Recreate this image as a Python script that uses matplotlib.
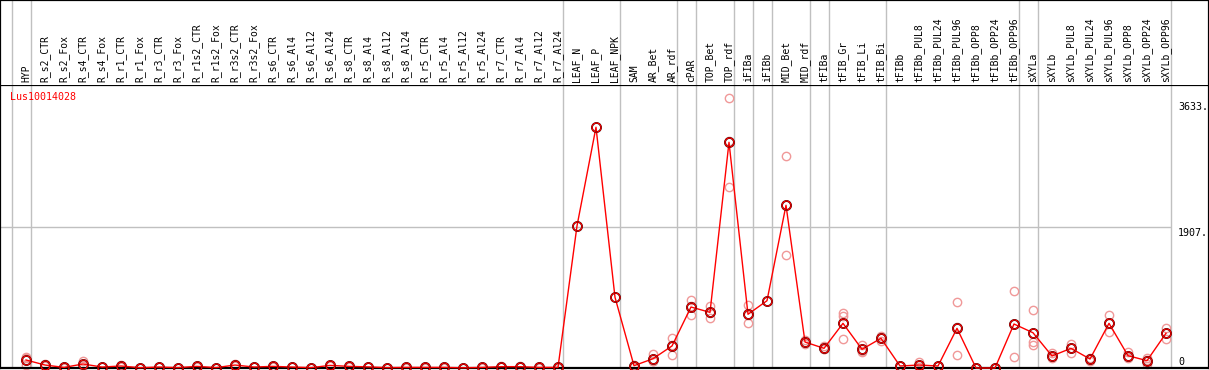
import numpy as np
import matplotlib
matplotlib.use('Agg')
import matplotlib.pyplot as plt

gene = 'Lus10014028'

samples = ['HYP', 'R_s2_CTR', 'R_s2_Fox', 'R_s4_CTR', 'R_s4_Fox', 'R_r1_CTR', 'R_r1_Fox',
           'R_r3_CTR', 'R_r3_Fox', 'R_r1s2_CTR', 'R_r1s2_Fox', 'R_r3s2_CTR', 'R_r3s2_Fox',
           'R_s6_CTR', 'R_s6_Al4', 'R_s6_Al12', 'R_s6_Al24', 'R_s8_CTR', 'R_s8_Al4',
           'R_s8_Al12', 'R_s8_Al24', 'R_r5_CTR', 'R_r5_Al4', 'R_r5_Al12', 'R_r5_Al24',
           'R_r7_CTR', 'R_r7_Al4', 'R_r7_Al12', 'R_r7_Al24', 'LEAF_N', 'LEAF_P', 'LEAF_NPK',
           'SAM', 'AR_Bet', 'AR_rdf', 'cPAR', 'TOP_Bet', 'TOP_rdf', 'iFIBa', 'iFIBb',
           'MID_Bet', 'MID_rdf', 'tFIBa', 'tFIB_Gr', 'tFIB_Li', 'tFIB_Bi', 'tFIBb',
           'tFIBb_PUL8', 'tFIBb_PUL24', 'tFIBb_PUL96', 'tFIBb_OPP8', 'tFIBb_OPP24',
           'tFIBb_OPP96', 'sXYLa', 'sXYLb', 'sXYLb_PUL8', 'sXYLb_PUL24', 'sXYLb_PUL96',
           'sXYLb_OPP8', 'sXYLb_OPP24', 'sXYLb_OPP96']

means = [108, 40, 8, 54, 13, 27, 4, 13, 5, 22, 5, 40, 13,
         22, 13, 5, 35, 22, 15, 5, 8, 8, 8, 3, 8,
         18, 18, 8, 8, 1915, 3245, 953,
         31, 125, 297, 822, 750, 3042, 724, 907,
         2193, 350, 265, 602, 252, 400, 27,
         40, 27, 535, 0, 0,
         593, 475, 162, 265, 121, 602,
         166, 99, 468]

reps = [[150, 130, 45], [50, 40, 30], [10, 8, 6], [90, 45, 30], [15, 12], [35, 27, 20], [5, 3],
        [15, 12], [6, 4], [28, 20], [6, 4], [48, 40, 32], [15, 12],
        [26, 20], [15, 11], [6, 4], [42, 35, 28], [26, 20], [18, 12],
        [6, 4], [10, 6], [10, 6], [10, 6], [4, 2], [10, 6],
        [22, 15], [22, 15], [10, 6], [10, 6], [], [], [],
        [45, 30, 18], [184, 100, 94], [404, 307, 180], [917, 840, 710], [836, 745, 670],
        [3633, 3057, 2436], [849, 720, 602], [],
        [2853, 2203, 1523], [380, 340, 330], [290, 255, 250], [737, 700, 387],
        [310, 225, 220], [431, 400, 370], [30, 25],
        [85, 20, 15], [30, 25], [885, 549, 171], [0], [0],
        [1038, 597, 144], [782, 355, 310], [207, 150, 130], [319, 270, 207],
        [140, 121, 100], [714, 602, 490],
        [220, 150, 130], [139, 104, 54], [543, 475, 387]]

# last sample of each group (gray separators)
group_ends = [-1, 0, 28, 31, 34, 35, 37, 38, 39, 41, 42, 45, 52, 53, 60]

y_top = 2 * 1907
y_mid = 1907
y_max = max(max(r) for r in reps if r)

W, H = 1209, 370
x = np.arange(len(samples))
xlim = (-26 / 19, (W - 26) / 19)

fig = plt.figure(figsize=(W / 100, H / 100), dpi=100)
ax = fig.add_axes([0, 2 / H, 1, (368 - 85) / H])
hx = fig.add_axes([0, (H - 85) / H, 1, 85 / H])

grey = '#c0c0c0'
mono = 'DejaVu Sans Mono'

for a in (ax, hx):
    a.set_xlim(*xlim)
    for g in group_ends:
        a.axvline(g + 0.25, color=grey, lw=1, zorder=0)
    a.set_xticks([])
    a.set_yticks([])
    for s in a.spines.values():
        s.set_color('black')
        s.set_linewidth(1.6)

ax.set_ylim(0, y_top)
hx.set_ylim(0, 1)
hx.spines['bottom'].set_visible(False)

ax.hlines(y_mid, xlim[0], group_ends[-1] + 0.25, color=grey, lw=1, zorder=0)

# replicates
rx = [i for i, r in enumerate(reps) for _ in r]
ry = [v for r in reps for v in r]
ax.plot(rx, ry, 'o', ms=6, mfc='none', mec='#f09898', mew=1, clip_on=False, zorder=2)

# mean line + markers
ax.plot(x, means, '-', color='red', lw=1, clip_on=False, zorder=3)
ax.plot(x, means, 'o', ms=6.5, mfc='none', mec='black', mew=1.3, clip_on=False, zorder=4)
ax.plot(x, means, 'o', ms=6.5, mfc='none', mec='red', mew=0.9, clip_on=False, zorder=5)

for i, name in enumerate(samples):
    hx.text(i, 0.03, name, rotation=90, ha='center', va='bottom',
            fontsize=7, family=mono)

ax.text(10 / W, 1 - 12 / (368 - 85), gene, transform=ax.transAxes, color='red',
        fontsize=7.2, family=mono, va='center', ha='left')

xr = 1178 / W
ax.annotate(f'{y_max:.0f}.', (xr, y_max), xycoords=('axes fraction', 'data'),
            xytext=(0, -9), textcoords='offset pixels', fontsize=7.2, family=mono,
            va='center', ha='left')
ax.annotate(f'{y_mid:.0f}.', (xr, y_mid), xycoords=('axes fraction', 'data'),
            xytext=(0, -6), textcoords='offset pixels', fontsize=7.2, family=mono,
            va='center', ha='left')
ax.annotate('0', (xr, 0), xycoords=('axes fraction', 'data'),
            xytext=(0, 6), textcoords='offset pixels', fontsize=7.2, family=mono,
            va='center', ha='left')

fig.savefig('out.png', dpi=100)
